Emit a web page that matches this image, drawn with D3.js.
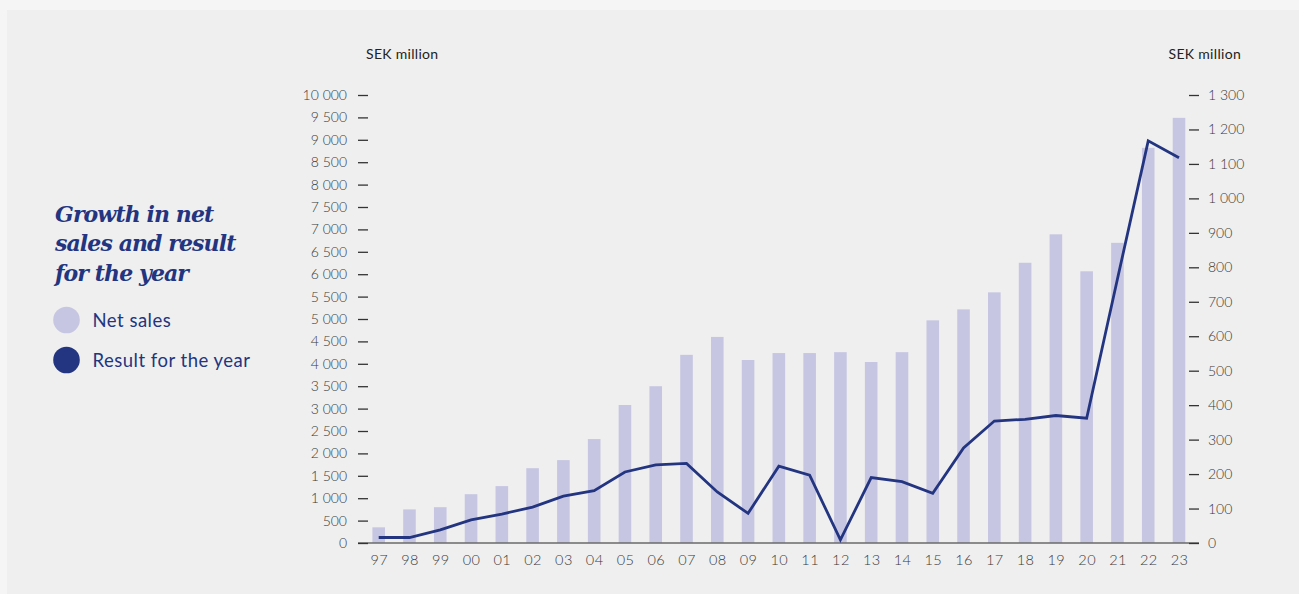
<!DOCTYPE html>
<html>
<head>
<meta charset="utf-8">
<script src="https://cdn.jsdelivr.net/npm/d3@7"></script>
<style>
  html, body { margin: 0; padding: 0; background: #f5f5f5; }
  svg { display: block; }
</style>
</head>
<body>
<svg id="chart" width="1299" height="594"></svg>
<script>
const years = ["97","98","99","00","01","02","03","04","05","06","07","08","09","10","11","12","13","14","15","16","17","18","19","20","21","22","23"];
const netSales = [350, 750, 800, 1090, 1270, 1670, 1850, 2320, 3080, 3500, 4200, 4600, 4085, 4240, 4240, 4260, 4040, 4260, 4970, 5215, 5595, 6255, 6890, 6065, 6700, 8820, 9490];
const result = [16, 16, 38, 67, 84, 104, 136, 152, 206, 227, 231, 148, 86, 223, 197, 9, 190, 178, 144, 276, 354, 359, 370, 362, 766, 1167, 1118];
const leftTicks = [0,500,1000,1500,2000,2500,3000,3500,4000,4500,5000,5500,6000,6500,7000,7500,8000,8500,9000,9500,10000];
const rightTicks = [0,100,200,300,400,500,600,700,800,900,1000,1100,1200,1300];
const titleLines = ["Growth in net", "sales and result", "for the year"];
const legendItems = [{label: "Net sales", color: "#c6c6e2"}, {label: "Result for the year", color: "#233580"}];

const svg = d3.select("#chart");
const navy = "#233580";
const barColor = "#c6c6e2";
const tickFont = "Lato, 'Noto Sans', sans-serif";
const tickColor = "#3a3a3a";

// panel
svg.append("rect").attr("x", 7).attr("y", 10).attr("width", 1292).attr("height", 584).attr("fill", "#efefef");

const x = d3.scalePoint().domain(years).range([378.7, 1179]);
const yL = d3.scaleLinear().domain([0, 10000]).range([543, 95]);
const yR = d3.scaleLinear().domain([0, 1300]).range([543, 95]);
const fmt = v => d3.format(",")(v).replace(/,/g, " ");

// bars
svg.append("g").selectAll("rect").data(years).join("rect")
  .attr("x", d => x(d) - 6.3)
  .attr("width", 12.6)
  .attr("y", (d, i) => yL(netSales[i]))
  .attr("height", (d, i) => yL(0) - yL(netSales[i]))
  .attr("fill", barColor);

// baseline
svg.append("line").attr("x1", 358).attr("x2", 1199).attr("y1", yL(0)).attr("y2", yL(0))
  .attr("stroke", "#6a6a6a").attr("stroke-width", 1.5);

// left axis
const leftAxis = d3.axisLeft(yL).tickValues(leftTicks).tickFormat(fmt).tickSize(10).tickPadding(11);
const gL = svg.append("g").attr("transform", "translate(368,0)").call(leftAxis);
gL.select(".domain").remove();
gL.selectAll(".tick line").attr("stroke", "#333").attr("stroke-width", 1.3);
gL.selectAll(".tick text").attr("fill", tickColor).style("font-family", tickFont).style("font-weight", 300).style("font-size", "14px");

// right axis
const rightAxis = d3.axisRight(yR).tickValues(rightTicks).tickFormat(fmt).tickSize(10).tickPadding(9);
const gR = svg.append("g").attr("transform", "translate(1189,0)").call(rightAxis);
gR.select(".domain").remove();
gR.selectAll(".tick line").attr("stroke", "#333").attr("stroke-width", 1.3);
gR.selectAll(".tick text").attr("fill", tickColor).style("font-family", tickFont).style("font-weight", 300).style("font-size", "14px");

// bottom axis labels
const bottomAxis = d3.axisBottom(x).tickSize(0).tickPadding(12);
const gB = svg.append("g").attr("transform", `translate(0,${yL(0)})`).call(bottomAxis);
gB.select(".domain").remove();
gB.selectAll(".tick text").attr("fill", tickColor).style("font-family", tickFont).style("font-weight", 300).style("font-size", "14.5px").style("letter-spacing", "0.4px");

// line
const line = d3.line().x((d, i) => x(years[i])).y(d => yR(d));
svg.append("path").datum(result).attr("d", line)
  .attr("fill", "none").attr("stroke", navy).attr("stroke-width", 2.8).attr("stroke-linejoin", "miter");

// unit labels
svg.append("text").attr("x", 366).attr("y", 59).text("SEK million")
  .attr("fill", "#222").style("font-family", tickFont).style("font-size", "14px").style("letter-spacing", "0.3px");
svg.append("text").attr("x", 1241).attr("y", 59).attr("text-anchor", "end").text("SEK million")
  .attr("fill", "#222").style("font-family", tickFont).style("font-size", "14px").style("letter-spacing", "0.3px");

// title
svg.append("g").selectAll("text").data(titleLines).join("text")
  .attr("x", 55).attr("y", (d, i) => 221.5 + i * 29.5)
  .text(d => d)
  .attr("fill", navy)
  .style("font-family", "'DejaVu Serif', 'Liberation Serif', serif")
  .style("font-weight", "bold").style("font-style", "italic")
  .style("font-size", "22px").style("letter-spacing", "-0.9px");

// legend
const lg = svg.append("g").selectAll("g").data(legendItems).join("g")
  .attr("transform", (d, i) => `translate(66.5,${320 + i * 40})`);
lg.append("circle").attr("r", 13.3).attr("fill", d => d.color);
lg.append("text").attr("x", 26).attr("y", 6.5).text(d => d.label)
  .attr("fill", navy).style("font-family", tickFont).style("font-size", "18.5px").style("letter-spacing", "0.5px");
</script>
</body>
</html>
